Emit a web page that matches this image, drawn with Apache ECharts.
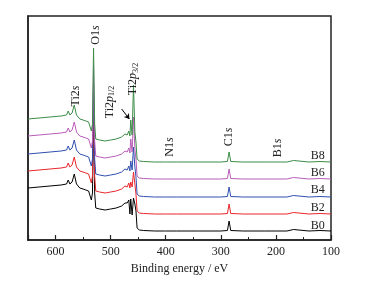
<!DOCTYPE html>
<html><head><meta charset="utf-8">
<script src="https://cdn.jsdelivr.net/npm/echarts@6/dist/echarts.min.js"></script>
<style>html,body{margin:0;padding:0;background:#fff}#c{width:369px;height:282px}</style>
</head><body><div id="c"></div>
<script>
// Binding energies (eV), shared by all spectra
const energy = [650,630,610,590,580,577,574,570,566,562,556,550,545,540,535,533,531,529,527,520,510,500,490,480,474,470,467,465,463.5,461,458.5,456,454,452,448,440,420,402,400,398,380,340,300,288,285,282,260,220,200,180,168,165,140,120,100];
// Stacked intensities (arbitrary units, offset spectra)
const B0 = [52,53,54,55,56,60,56,58,66,56,52,51,50,49,40,47,123,47,32,31,30,31,32,34,37,37,40,26,41,25,42,36,29,12,10,9.5,9,9,11,9,9,9,9,9.5,19,9.5,9,9,9,9,10.5,9,9,9.5,9];
const B2 = [69,70,71,72,73,77,73,75,83,73,69,68,67,66,57,64,140,64,49,48,47,48,49,51,54,53,57,52,58,53,68,56,46,29,27,26.5,26,26,28,26,26,26,26,26.5,36,26.5,26,26,26,26,27.5,26,26,26.5,26];
const B4 = [86,87,88,89,90,94,90,92,100,90,86,85,84,83,74,81,157,81,66,65,64,65,66,68,71,70,74,69,79,70,93,73,63,46,44,43.5,43,43,45,43,43,43,43,43.5,53,43.5,43,43,43,43,44.5,43,43,43.5,43];
const B6 = [104,105,106,107,108,112,108,110,118,108,104,103,102,101,92,99,175,99,84,83,82,83,84,86,89,88,92,87,101,88,123,91,81,64,62,61.5,61,61,63,61,61,61,61,61.5,71,61.5,61,61,61,61,62.5,61,61,61.5,61];
const B8 = [121,122,123,124,125,129,125,127,135,125,121,120,119,118,109,116,192,116,101,100,99,100,101,103,106,105,109,104,120,105,155,108,98,81,79,78.5,78,78,80,78,78,78,78,78.5,88,78.5,78,78,78,78,79.5,78,78,78.5,78];
const seriesNames = ['B0','B2','B4','B6','B8'];
const seriesData = [B0,B2,B4,B6,B8];
const colors = ['#000000','#e8262a','#2f4fb0','#b85cb8','#3c8c48'];
// x tick labels
const xTicks = [600,500,400,300,200,100];
// sample label anchors [energy, intensity]
const sampleLabelPos = [[124,14],[124,32],[124,50],[124,67],[124,84]];
// peak annotations [text(rich), energy, intensity]
const peakLabels = [
  ['{n|Ti2}{i|s}', 564, 144],
  ['{n|O1}{i|s}', 526, 205],
  ['{n|Ti2}{i|p}{s|1/2}', 502, 138],
  ['{n|Ti2}{i|p}{s|3/2}', 459, 161],
  ['{n|N1}{i|s}', 392, 93],
  ['{n|C1}{i|s}', 286, 103],
  ['{n|B1}{i|s}', 197, 92]
];
const arrowFrom = [480, 131];
const arrowTo = [466, 121];

const FONT = '"Liberation Serif", "DejaVu Serif", serif';
const chart = echarts.init(document.getElementById('c'), null, {renderer:'canvas'});
const series = seriesNames.map((n,i)=>({
  name:n, type:'line', showSymbol:false, smooth:false,
  data: energy.map((e,k)=>[e, seriesData[i][k]]),
  lineStyle:{width:1, color:colors[i]}, itemStyle:{color:colors[i]}, z: 2+i,
  animation:false
}));
series.push({
  type:'line', data:[], silent:true, animation:false,
  markLine:{silent:true, symbol:['none','arrow'], symbolSize:5, animation:false,
    lineStyle:{color:'#000', width:1, type:'solid'}, label:{show:false},
    data:[[{coord:arrowFrom},{coord:arrowTo}]]}
});
chart.setOption({
  animation:false,
  grid:{left:28, right:38, top:16, bottom:42, show:true, borderColor:'#222', borderWidth:1.5},
  xAxis:{type:'value', inverse:true, min:100, max:650, interval:100,
    axisLine:{show:true, onZero:false, lineStyle:{color:'#222', width:1.5}},
    axisTick:{show:true, inside:true, length:5, lineStyle:{color:'#222', width:1.2}},
    minorTick:{show:true, splitNumber:2, length:3, lineStyle:{color:'#222', width:1}},
    splitLine:{show:false},
    axisLabel:{fontFamily:FONT, fontSize:12, color:'#222', margin:6,
      formatter:v=> xTicks.indexOf(v)>=0 ? String(v) : ''},
    name:'Binding energy / eV', nameLocation:'middle', nameGap:20,
    nameTextStyle:{fontFamily:FONT, fontSize:12, color:'#222'}
  },
  yAxis:{type:'value', min:0, max:224, axisLine:{show:true, lineStyle:{color:'#222', width:1.5}},
    axisTick:{show:false}, axisLabel:{show:false}, splitLine:{show:false}},
  series:series
});
const rich = {
  n:{fontFamily:FONT, fontSize:12, fill:'#222'},
  i:{fontFamily:FONT, fontSize:12, fontStyle:'italic', fill:'#222'},
  s:{fontFamily:FONT, fontSize:8, fill:'#222', padding:[5,0,0,0]}
};
const graphics = [];
peakLabels.forEach(p=>{
  const pt = chart.convertToPixel({gridIndex:0}, [p[1], p[2]]);
  graphics.push({type:'text', x:pt[0], y:pt[1], rotation:Math.PI/2, z:100,
    style:{text:p[0], rich:rich, align:'center', verticalAlign:'middle', fill:'#222',
      font:'12px '+FONT}});
});
seriesNames.forEach((n,i)=>{
  const pt = chart.convertToPixel({gridIndex:0}, sampleLabelPos[i]);
  graphics.push({type:'text', x:pt[0], y:pt[1], z:100,
    style:{text:n, align:'center', verticalAlign:'middle', fill:'#222', font:'12px '+FONT}});
});
chart.setOption({graphic:graphics});
</script></body></html>
